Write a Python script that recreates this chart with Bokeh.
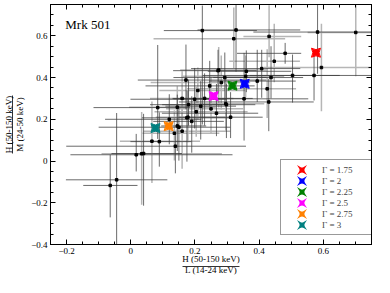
import numpy as np
from bokeh.plotting import figure
from bokeh.models import (LinearAxis, FixedTicker, CustomJSTickFormatter, Label,
                          Legend, LegendItem, ColumnDataSource)
from bokeh.embed import file_html
from bokeh.resources import INLINE

FONT = "Liberation Serif"

# ---- data: hardness ratios H/L (x) and H/M (y) with asymmetric errors ----
x_ratio = [-0.064, -0.044, 0.017, 0.034, 0.040, 0.066, 0.089, 0.139, 0.136, 0.150,
           0.160, 0.145, 0.175, 0.178, 0.084, 0.145, 0.180, 0.199, 0.204, 0.218,
           0.209, 0.267, 0.296, 0.311, 0.298, 0.172, 0.272, 0.282, 0.246, 0.274,
           0.293, 0.353, 0.358, 0.360, 0.394, 0.408, 0.425, 0.430, 0.437, 0.447,
           0.481, 0.504, 0.571, 0.594, 0.582, 0.701, 0.431, 0.321, 0.223, 0.328,
           0.190, 0.230, 0.250, 0.160, 0.120]
y_ratio = [-0.117, -0.090, 0.030, 0.035, 0.036, 0.095, 0.093, 0.071, 0.133, 0.162,
           0.143, 0.168, 0.207, 0.210, 0.256, 0.258, 0.270, 0.296, 0.236, 0.263,
           0.338, 0.229, 0.275, 0.210, 0.270, 0.388, 0.433, 0.376, 0.360, 0.436,
           0.400, 0.298, 0.406, 0.430, 0.383, 0.443, 0.346, 0.283, 0.400, 0.478,
           0.516, 0.410, 0.410, 0.448, 0.618, 0.616, 0.597, 0.586, 0.625, 0.628,
           0.190, 0.300, 0.250, 0.300, 0.200]
x_err_minus = [0.084, 0.158, 0.205, 0.125, 0.100, 0.100, 0.090, 0.340, 0.100, 0.250,
               0.120, 0.050, 0.140, 0.100, 0.200, 0.150, 0.120, 0.200, 0.130, 0.110,
               0.120, 0.170, 0.120, 0.160, 0.200, 0.150, 0.140, 0.220, 0.200, 0.120,
               0.160, 0.220, 0.200, 0.120, 0.150, 0.220, 0.250, 0.280, 0.180, 0.140,
               0.150, 0.280, 0.200, 0.180, 0.200, 0.150, 0.080, 0.250, 0.120, 0.120,
               0.120, 0.100, 0.140, 0.100, 0.200]
x_err_plus = [0.085, 0.158, 0.300, 0.250, 0.120, 0.150, 0.100, 0.220, 0.140, 0.160,
              0.150, 0.090, 0.140, 0.120, 0.100, 0.120, 0.120, 0.100, 0.160, 0.110,
              0.150, 0.130, 0.120, 0.100, 0.090, 0.250, 0.120, 0.090, 0.140, 0.150,
              0.130, 0.200, 0.120, 0.140, 0.120, 0.120, 0.090, 0.140, 0.100, 0.080,
              0.050, 0.250, 0.080, 0.160, 0.170, 0.050, 0.100, 0.160, 0.170, 0.200,
              0.100, 0.150, 0.100, 0.160, 0.100]
y_err_minus = [0.153, 0.360, 0.080, 0.245, 0.250, 0.200, 0.120, 0.130, 0.130, 0.160,
               0.180, 0.120, 0.210, 0.120, 0.150, 0.130, 0.100, 0.140, 0.120, 0.160,
               0.140, 0.110, 0.130, 0.100, 0.160, 0.140, 0.110, 0.130, 0.100, 0.180,
               0.120, 0.200, 0.100, 0.100, 0.100, 0.140, 0.140, 0.140, 0.100, 0.100,
               0.050, 0.130, 0.120, 0.210, 0.200, 0.210, 0.100, 0.140, 0.450, 0.200,
               0.150, 0.130, 0.120, 0.150, 0.120]
y_err_plus = [0.147, 0.320, 0.100, 0.200, 0.190, 0.190, 0.140, 0.065, 0.110, 0.100,
              0.120, 0.150, 0.130, 0.130, 0.300, 0.100, 0.120, 0.150, 0.120, 0.120,
              0.110, 0.140, 0.120, 0.120, 0.100, 0.170, 0.100, 0.130, 0.120, 0.110,
              0.120, 0.220, 0.100, 0.100, 0.150, 0.090, 0.190, 0.110, 0.150, 0.180,
              0.050, 0.100, 0.100, 0.210, 0.150, 0.130, 0.150, 0.150, 0.120, 0.120,
              0.120, 0.120, 0.160, 0.130, 0.120]
bar_group = [0, 0, 0, 1, 0, 1, 0, 0, 1, 0,
             1, 0, 0, 1, 0, 1, 0, 0, 1, 0,
             1, 0, 1, 0, 0, 0, 0, 1, 0, 1,
             0, 0, 1, 0, 0, 0, 1, 0, 0, 1,
             0, 0, 0, 1, 0, 1, 1, 1, 0, 0,
             0, 0, 1, 1, 0]

# ---- model predictions for power-law photon index ----
gamma_labels = ["\u0393 = 1.75", "\u0393 = 2", "\u0393 = 2.25", "\u0393 = 2.5", "\u0393 = 2.75", "\u0393 = 3"]
gamma_x = [0.577, 0.355, 0.317, 0.258, 0.118, 0.077]
gamma_y = [0.519, 0.370, 0.361, 0.311, 0.167, 0.158]
gamma_colors = ["#ff0000", "#0000ff", "#008000", "#ff00ff", "#ff8000", "#008080"]

x_major = [-0.2, 0.0, 0.2, 0.4, 0.6]
y_major = [-0.4, -0.2, 0.0, 0.2, 0.4, 0.6]

x_title_top = "H (50-150 keV)"
x_title_bottom = "L (14-24 keV)"
y_title_top = "H (50-150 keV)"
y_title_bottom = "M (24-50 keV)"

W, H = 374, 277
BL, BR, BT, BB = 45, 3, 4, 30

# ---- figure ----
p = figure(width=W, height=H, x_range=(-0.25, 0.75), y_range=(-0.4, 0.75),
           output_backend="svg", toolbar_location=None,
           min_border_left=BL, min_border_right=BR, min_border_top=BT, min_border_bottom=BB)
p.xgrid.visible = False
p.ygrid.visible = False
p.outline_line_color = "black"
p.outline_line_width = 1

x_minor = [float(v) for v in np.round(np.arange(-0.25, 0.7501, 0.05), 2)]
y_minor = [float(v) for v in np.round(np.arange(-0.40, 0.7501, 0.05), 2)]

fmt = CustomJSTickFormatter(code="""
if (Math.abs(tick) < 1e-9) { return '0'; }
var s = Math.abs(tick).toFixed(1);
return tick < 0 ? '\u2212' + s : s;
""")
blank = CustomJSTickFormatter(code="return '';")


def style(ax, ticks, minor, labels):
    ax.ticker = FixedTicker(ticks=ticks, minor_ticks=minor)
    ax.major_tick_in = 5
    ax.major_tick_out = 0
    ax.minor_tick_in = 3
    ax.minor_tick_out = 0
    ax.axis_line_color = "black"
    ax.major_tick_line_color = "black"
    ax.minor_tick_line_color = "black"
    ax.major_label_text_font = FONT
    ax.major_label_text_color = "black"
    ax.axis_label_text_font = FONT
    ax.axis_label_text_font_size = "9px"
    ax.axis_label_text_font_style = "normal"
    ax.axis_label_text_color = "black"
    if labels:
        ax.formatter = fmt
        ax.major_label_text_font_size = "9px"
        ax.major_label_standoff = 3
    else:
        ax.formatter = blank
        ax.major_label_text_font_size = "1px"
        ax.major_label_standoff = 0


def fraction_bar_axis(bounds, label, standoff):
    ax = LinearAxis(ticker=FixedTicker(ticks=[], minor_ticks=[]), formatter=blank,
                    bounds=bounds, axis_label=label)
    ax.major_tick_in = 0
    ax.major_tick_out = 0
    ax.minor_tick_in = 0
    ax.minor_tick_out = 0
    ax.major_label_text_font_size = "1px"
    ax.major_label_standoff = 0
    ax.axis_line_color = "black"
    ax.axis_line_width = 0.8
    ax.axis_label_text_font = FONT
    ax.axis_label_text_font_size = "9px"
    ax.axis_label_text_font_style = "normal"
    ax.axis_label_text_color = "black"
    ax.axis_label_standoff = standoff
    return ax


xax = p.xaxis[0]
style(xax, x_major, x_minor, True)
xax.axis_label = x_title_top
xax.axis_label_standoff = -3
yax = p.yaxis[0]
style(yax, y_major, y_minor, True)
yax.axis_label = y_title_bottom
yax.axis_label_standoff = 3

top = LinearAxis()
style(top, x_major, x_minor, False)
p.add_layout(top, "above")
right = LinearAxis()
style(right, y_major, y_minor, False)
p.add_layout(right, "right")

p.add_layout(fraction_bar_axis((0.162, 0.338), x_title_bottom, -2), "below")
p.add_layout(fraction_bar_axis((0.037, 0.313), y_title_top, -1), "left")

# ---- error bars ----
xv = np.array(x_ratio)
yv = np.array(y_ratio)
g = np.array(bar_group)


def src(mask):
    return ColumnDataSource(dict(
        x=xv[mask], y=yv[mask],
        xl=(xv - np.array(x_err_minus))[mask], xh=(xv + np.array(x_err_plus))[mask],
        yl=(yv - np.array(y_err_minus))[mask], yh=(yv + np.array(y_err_plus))[mask]))


gsrc = src(g == 1)
bsrc = src(g == 0)
for s, col, w, a in [(gsrc, "#b6b6b6", 1.5, 1.0), (bsrc, "#3c3c3c", 0.85, 0.9)]:
    p.segment(x0="xl", y0="y", x1="xh", y1="y", source=s, line_color=col, line_width=w, line_alpha=a)
    p.segment(x0="x", y0="yl", x1="x", y1="yh", source=s, line_color=col, line_width=w, line_alpha=a)

p.scatter(x=x_ratio, y=y_ratio, marker="square", size=2.5, color="black")

items = []
for lab, gx, gy, c in zip(gamma_labels, gamma_x, gamma_y, gamma_colors):
    # small twin drawn beneath the marker; its thick mitred outline is what the legend shows
    leg = p.scatter(x=[gx], y=[gy], marker="square_pin", size=1, fill_color=c,
                    line_color=c, line_width=1.8, line_join="miter")
    p.scatter(x=[gx], y=[gy], marker="square_pin", size=9,
              fill_color=c, line_color=c, line_width=1)
    items.append(LegendItem(label=lab, renderers=[leg]))

frame_w = 374 - 46 - BR
legend = Legend(items=items, location=(frame_w - 90 - 5, 9),
                label_text_font=FONT, label_text_font_size="9px",
                glyph_width=33, glyph_height=11, label_height=11, label_width=45,
                label_standoff=4, spacing=0, padding=4, margin=0,
                border_line_color="#333333", border_line_width=1,
                background_fill_color="white", background_fill_alpha=1)
p.add_layout(legend)

# ---- source name ----
p.add_layout(Label(x=-0.204, y=0.617, text="Mrk 501", text_font=FONT,
                   text_font_size="13px", text_color="black"))

open("out.html", "w").write(file_html(p, INLINE))
